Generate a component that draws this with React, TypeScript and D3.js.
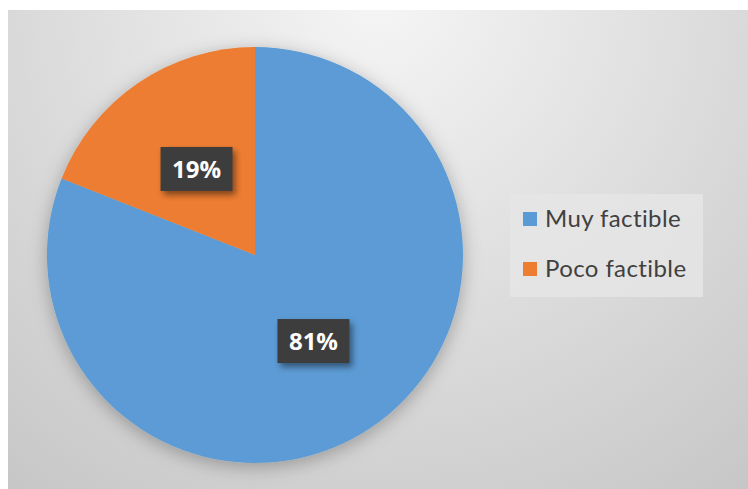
import { useEffect, useRef } from "react";
import * as d3 from "d3";

const CATEGORIES = ["Muy factible", "Poco factible"];
const VALUES = [81, 19];
const COLORS = ["#5B9BD5", "#ED7D31"];

export default function App() {
  const svgRef = useRef<SVGSVGElement>(null);

  useEffect(() => {
    if (!svgRef.current) return;
    const svg = d3.select(svgRef.current);
    svg.selectAll("*").remove();

    const W = 748, H = 489;
    const cx = 255, cy = 255, r = 208;

    const defs = svg.append("defs");
    const grad = defs.append("radialGradient")
      .attr("id", "bg")
      .attr("gradientUnits", "userSpaceOnUse")
      .attr("cx", 380).attr("cy", 0).attr("r", 620)
      .attr("fx", 380).attr("fy", 0);
    grad.append("stop").attr("offset", "0%").attr("stop-color", "#f5f5f5");
    grad.append("stop").attr("offset", "100%").attr("stop-color", "#c6c6c6");

    const shadow = defs.append("filter").attr("id", "pieShadow")
      .attr("x", "-20%").attr("y", "-20%").attr("width", "140%").attr("height", "140%");
    shadow.append("feDropShadow")
      .attr("dx", 0).attr("dy", 4).attr("stdDeviation", 9)
      .attr("flood-color", "#000").attr("flood-opacity", 0.28);

    const boxShadow = defs.append("filter").attr("id", "boxShadow")
      .attr("x", "-30%").attr("y", "-30%").attr("width", "160%").attr("height", "160%");
    boxShadow.append("feDropShadow")
      .attr("dx", 3).attr("dy", 4).attr("stdDeviation", 3)
      .attr("flood-color", "#000").attr("flood-opacity", 0.45);

    svg.append("rect").attr("x", 0).attr("y", 0).attr("width", W).attr("height", H).attr("fill", "#fff");
    svg.append("rect").attr("x", 8).attr("y", 10).attr("width", W - 8).attr("height", H - 10).attr("fill", "url(#bg)");

    const pie = d3.pie<number>().sort(null).value((d) => d);
    const arcs = pie(VALUES);
    const arc = d3.arc<d3.PieArcDatum<number>>().innerRadius(0).outerRadius(r);

    const g = svg.append("g").attr("transform", `translate(${cx},${cy})`);
    const slices = g.append("g").attr("filter", "url(#pieShadow)");
    slices.selectAll("path")
      .data(arcs)
      .join("path")
      .attr("d", arc)
      .attr("fill", (_, i) => COLORS[i]);

    const labels = g.selectAll("g.lbl")
      .data(arcs)
      .join("g")
      .attr("class", "lbl")
      .attr("transform", (d) => {
        const [x, y] = arc.centroid(d);
        return `translate(${x},${y})`;
      });
    labels.append("rect")
      .attr("x", -36).attr("y", -22).attr("width", 72).attr("height", 44)
      .attr("fill", "#3d3d3d")
      .attr("filter", "url(#boxShadow)");
    labels.append("text")
      .attr("text-anchor", "middle")
      .attr("dy", "0.36em")
      .attr("fill", "#fff")
      .attr("font-family", "'Open Sans', sans-serif")
      .attr("font-weight", "700")
      .attr("font-size", "24px")
      .text((d) => `${d.data}%`);

    // Legend
    const lg = svg.append("g");
    lg.append("rect")
      .attr("x", 510).attr("y", 194).attr("width", 193).attr("height", 103)
      .attr("fill", "#e6e6e6").attr("opacity", 0.8);
    const items = lg.selectAll("g.item")
      .data(CATEGORIES)
      .join("g")
      .attr("class", "item")
      .attr("transform", (_, i) => `translate(523,${219 + i * 50})`);
    items.append("rect")
      .attr("x", 0).attr("y", -7).attr("width", 14).attr("height", 14)
      .attr("fill", (_, i) => COLORS[i]);
    items.append("text")
      .attr("x", 22).attr("dy", "0.35em")
      .attr("fill", "#404040")
      .attr("font-family", "Lato, sans-serif")
      .attr("font-size", "24px")
      .attr("letter-spacing", "0.4px")
      .text((d) => d);
  }, []);

  return (
    <svg
      ref={svgRef}
      width={748}
      height={489}
      style={{ position: "absolute", left: 0, top: 0, display: "block" }}
    />
  );
}
